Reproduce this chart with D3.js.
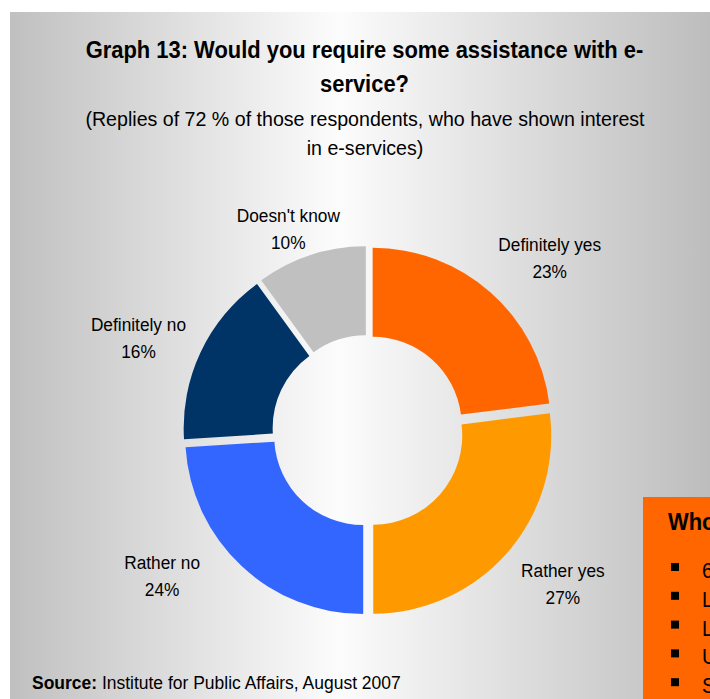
<!DOCTYPE html>
<html>
<head>
<meta charset="utf-8">
<script src="https://cdn.jsdelivr.net/npm/d3@7"></script>
<style>
  html, body { margin: 0; padding: 0; background: #ffffff; }
  svg { display: block; font-family: "Liberation Sans", Arial, sans-serif; }
</style>
</head>
<body>
<svg id="chart" width="710" height="699"></svg>
<script>
// Survey answers, clockwise from 12 o'clock
const categories = ["Definitely yes", "Rather yes", "Rather no", "Definitely no", "Doesn't know"];
const shares = [23, 27, 24, 16, 10];

const titleLines = ["Graph 13: Would you require some assistance with e-", "service?"];
const subtitleLines = ["(Replies of 72 % of those respondents, who have shown interest", "in e-services)"];
const sourceBold = "Source:";
const sourceText = " Institute for Public Affairs, August 2007";

// Side panel (partly off-page)
const sideHeading = "Who";
const sideItems = ["6", "L", "L", "U", "S"];

// Palette
const palette = ["#FF6600", "#FF9900", "#3366FF", "#003366", "#C0C0C0"];

const W = 710, H = 699;
const squeeze = 0.93; // narrow the type horizontally
const svg = d3.select("#chart");

// Background panel with a silver horizontal gradient
const defs = svg.append("defs");
const grad = defs.append("linearGradient")
  .attr("id", "panelGrad")
  .attr("gradientUnits", "userSpaceOnUse")
  .attr("x1", 10).attr("y1", 0).attr("x2", 710).attr("y2", 0);
grad.append("stop").attr("offset", "0").attr("stop-color", "#c0c0c0");
grad.append("stop").attr("offset", "0.47").attr("stop-color", "#fcfcfc");
grad.append("stop").attr("offset", "1").attr("stop-color", "#bdbdbd");

svg.append("rect")
  .attr("x", 10).attr("y", 12)
  .attr("width", W - 10).attr("height", H - 12)
  .attr("fill", "url(#panelGrad)");

const at = (x, y) => `translate(${x},${y}) scale(${squeeze},1)`;

// Title and subtitle
svg.append("g").selectAll("text").data(titleLines).join("text")
  .attr("transform", (d, i) => at(364.5, 58 + i * 34))
  .attr("text-anchor", "middle")
  .attr("font-size", 23.6)
  .attr("font-weight", "bold")
  .attr("fill", "#000")
  .text(d => d);

svg.append("g").selectAll("text").data(subtitleLines).join("text")
  .attr("transform", (d, i) => at(365, 126 + i * 29))
  .attr("text-anchor", "middle")
  .attr("font-size", 21.1)
  .attr("fill", "#000")
  .text(d => d);

// Doughnut
const cx = 368, cy = 431;
const outerR = 178, innerR = 89, explode = 7;

const pie = d3.pie().sort(null).value(d => d.value).startAngle(0).endAngle(2 * Math.PI);
const rows = categories.map((c, i) => ({ name: c, value: shares[i], color: palette[i] }));
const arcs = pie(rows);

const arc = d3.arc().innerRadius(innerR).outerRadius(outerR);

const g = svg.append("g").attr("transform", `translate(${cx},${cy})`);

g.selectAll("path").data(arcs).join("path")
  .attr("d", arc)
  .attr("fill", d => d.data.color)
  .attr("transform", d => {
    const a = (d.startAngle + d.endAngle) / 2;
    return `translate(${explode * Math.sin(a)},${-explode * Math.cos(a)})`;
  });

// Data labels: box placed outside the ring, corner touching an anchor
const labelSize = 18.6, lineGap = 27;
const anchorR = 200;
const labelNudge = {
  "Definitely yes": [-2, -3],
  "Rather yes": [3, 0],
  "Rather no": [-31, -21],
  "Definitely no": [-1, -8],
  "Doesn't know": [34, 8]
};

const labels = g.selectAll("g.lbl").data(arcs).join("g").attr("class", "lbl");
labels.each(function(d) {
  const sel = d3.select(this);
  const lines = [d.data.name, d3.format(".0f")(d.data.value) + "%"];
  const t = sel.append("text")
    .attr("text-anchor", "middle")
    .attr("font-size", labelSize)
    .attr("fill", "#000");
  t.selectAll("tspan").data(lines).join("tspan")
    .attr("x", 0)
    .attr("y", (l, i) => i * lineGap)
    .text(l => l);
  const w = t.node().getBBox().width * squeeze;
  const capH = labelSize * 0.716;
  const h = capH + lineGap;
  const a = (d.startAngle + d.endAngle) / 2;
  const s = Math.sin(a), c = Math.cos(a);
  const ax = anchorR * s, ay = -anchorR * c;
  let mx = ax + Math.sign(s) * w / 2;
  let my = Math.abs(c) < 0.5 ? ay : ay - Math.sign(c) * h / 2;
  const n = labelNudge[d.data.name] || [0, 0];
  mx += n[0]; my += n[1];
  // first baseline from the block's vertical centre
  const base1 = my - (lineGap - capH) / 2;
  sel.attr("transform", at(mx, base1));
});

// Source line
const src = svg.append("text")
  .attr("transform", at(32, 689))
  .attr("font-size", 18.8)
  .attr("fill", "#000");
src.append("tspan").attr("font-weight", "bold").text(sourceBold);
src.append("tspan").text(sourceText);

// Orange side box
const side = svg.append("g");
side.append("rect")
  .attr("x", 643).attr("y", 497)
  .attr("width", 80).attr("height", 210)
  .attr("fill", "#FF6600");
side.append("text")
  .attr("transform", at(668, 530))
  .attr("font-size", 23.6)
  .attr("font-weight", "bold")
  .attr("fill", "#000")
  .text(sideHeading);
const items = side.selectAll("g.item").data(sideItems).join("g")
  .attr("class", "item")
  .attr("transform", (d, i) => `translate(0,${578 + i * 28.8})`);
items.append("rect")
  .attr("x", 671).attr("y", -15)
  .attr("width", 8).attr("height", 8)
  .attr("fill", "#000");
items.append("text")
  .attr("transform", at(702, 0))
  .attr("font-size", 21.5)
  .attr("fill", "#000")
  .text(d => d);
</script>
</body>
</html>
